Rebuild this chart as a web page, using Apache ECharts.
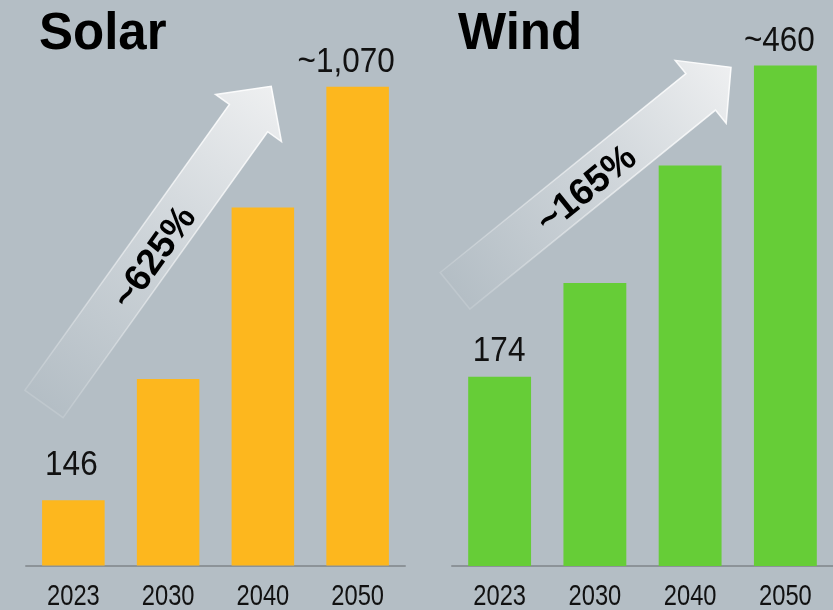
<!DOCTYPE html>
<html>
<head>
<meta charset="utf-8">
<script src="https://cdn.jsdelivr.net/npm/echarts@6/dist/echarts.min.js"></script>
<style>
  html, body { margin: 0; padding: 0; background: #b4bec5; }
  #chart { width: 833px; height: 610px; }
</style>
</head>
<body>
<div id="chart"></div>
<script>
// Installed capacity outlook, solar and wind
const years = ['2023', '2030', '2040', '2050'];
const solarValues = [146, 417, 800, 1070];
const solarLabels = ['146', '', '', '~1,070'];
const windValues = [174, 260, 368, 460];
const windLabels = ['174', '', '', '~460'];
const panelTitles = ['Solar', 'Wind'];
const growthLabels = ['~625%', '~165%'];

const BG = '#b4bec5';
const SANS = "'Liberation Sans', Arial, sans-serif";

// Narrowed text (condensed look) for the year ticks and value labels,
// placed through the axis scales of each panel.
function labelSeries(axisIdx, values, labels, firstGap, labelDx) {
  return {
    type: 'custom',
    xAxisIndex: axisIdx, yAxisIndex: axisIdx,
    z: 5, clip: false, silent: true,
    data: values.map((v, i) => [i, v]),
    encode: { x: 0, y: 1 },
    renderItem: function (params, api) {
      const i = params.dataIndex;
      const top = api.coord([api.value(0), api.value(1)]);
      const base = api.coord([api.value(0), 0]);
      const children = [{
        type: 'text', x: base[0], y: base[1] + 31, scaleX: 0.79,
        style: {
          text: years[i], fill: '#111', font: '30px ' + SANS,
          align: 'center', verticalAlign: 'middle',
          textAlign: 'center', textVerticalAlign: 'middle'
        }
      }];
      if (labels[i]) {
        children.push({
          type: 'text', x: top[0] + labelDx[i], y: top[1] - (i === 0 ? firstGap : 24),
          scaleX: 0.9,
          style: {
            text: labels[i], fill: '#111', font: '35px ' + SANS,
            align: 'center', verticalAlign: 'middle',
            textAlign: 'center', textVerticalAlign: 'middle'
          }
        });
      }
      return { type: 'group', children: children };
    }
  };
}

// Block arrow built from its centre line: tail centre, tip, shaft width, head width, head length
function arrowPoints(tail, tip, shaftW, headW, headLen) {
  const dx = tip[0] - tail[0], dy = tip[1] - tail[1];
  const len = Math.hypot(dx, dy);
  const ux = dx / len, uy = dy / len;
  const nx = -uy, ny = ux;
  const bx = tip[0] - ux * headLen, by = tip[1] - uy * headLen;
  const s = shaftW / 2, h = headW / 2;
  return [
    [tail[0] + nx * s, tail[1] + ny * s],
    [bx + nx * s, by + ny * s],
    [bx + nx * h, by + ny * h],
    tip,
    [bx - nx * h, by - ny * h],
    [bx - nx * s, by - ny * s],
    [tail[0] - nx * s, tail[1] - ny * s]
  ];
}

function arrow(tail, tip) {
  return {
    type: 'polygon',
    z: 1,
    shape: { points: arrowPoints(tail, tip, 47, 81, 39) },
    style: {
      fill: {
        type: 'linear', global: true,
        x: tail[0], y: tail[1], x2: tip[0], y2: tip[1],
        colorStops: [
          { offset: 0, color: 'rgba(236,238,240,0)' },
          { offset: 0.5, color: 'rgba(236,238,240,0.45)' },
          { offset: 1, color: 'rgba(240,241,242,0.97)' }
        ]
      },
      stroke: {
        type: 'linear', global: true,
        x: tail[0], y: tail[1], x2: tip[0], y2: tip[1],
        colorStops: [
          { offset: 0, color: 'rgba(255,255,255,0.15)' },
          { offset: 1, color: 'rgba(255,255,255,0.95)' }
        ]
      },
      lineWidth: 1.5
    }
  };
}

function rotatedText(text, x, y, deg) {
  return {
    type: 'text', z: 2, x: x, y: y, rotation: deg * Math.PI / 180,
    style: {
      text: text, fill: '#000',
      font: 'bold 37px ' + SANS,
      align: 'center', verticalAlign: 'middle',
      textAlign: 'center', textVerticalAlign: 'middle'
    }
  };
}

function titleText(text, x) {
  return {
    type: 'text', z: 2, x: x, y: 35,
    style: {
      text: text, fill: '#000',
      font: 'bold 51px ' + SANS,
      align: 'left', verticalAlign: 'middle',
      textAlign: 'left', textVerticalAlign: 'middle'
    }
  };
}

const axisCommon = {
  type: 'category',
  data: years,
  axisTick: { show: false },
  axisLine: { lineStyle: { color: '#8c9398', width: 2 } },
  axisLabel: { show: false }
};

const chart = echarts.init(document.getElementById('chart'));
chart.setOption({
  backgroundColor: BG,
  animation: false,
  grid: [
    { left: 26, width: 379, top: 28.6, bottom: 44.5 },
    { left: 452, right: 0, top: 22, bottom: 44 }
  ],
  xAxis: [
    Object.assign({ gridIndex: 0 }, axisCommon),
    Object.assign({ gridIndex: 1 }, axisCommon)
  ],
  yAxis: [
    { gridIndex: 0, type: 'value', min: 0, max: 1200, show: false, splitLine: { show: false } },
    { gridIndex: 1, type: 'value', min: 0, max: 500, show: false, splitLine: { show: false } }
  ],
  series: [
    {
      type: 'bar', xAxisIndex: 0, yAxisIndex: 0, barWidth: '66%', z: 3,
      itemStyle: { color: '#fdb71e' },
      data: solarValues
    },
    {
      type: 'bar', xAxisIndex: 1, yAxisIndex: 1, barWidth: '66%', z: 3,
      itemStyle: { color: '#66cd37' },
      data: windValues
    },
    labelSeries(0, solarValues, solarLabels, 35, [-2, 0, 0, -11.5]),
    labelSeries(1, windValues, windLabels, 25, [-0.5, 0, 0, -6])
  ],
  graphic: [
    arrow([44, 404], [271.2, 86.3]),
    arrow([455, 290.8], [731, 67.3]),
    rotatedText(growthLabels[0], 155, 258, 54.4),
    rotatedText(growthLabels[1], 587, 190, 39),
    titleText(panelTitles[0], 39),
    titleText(panelTitles[1], 458)
  ]
});
</script>
</body>
</html>
